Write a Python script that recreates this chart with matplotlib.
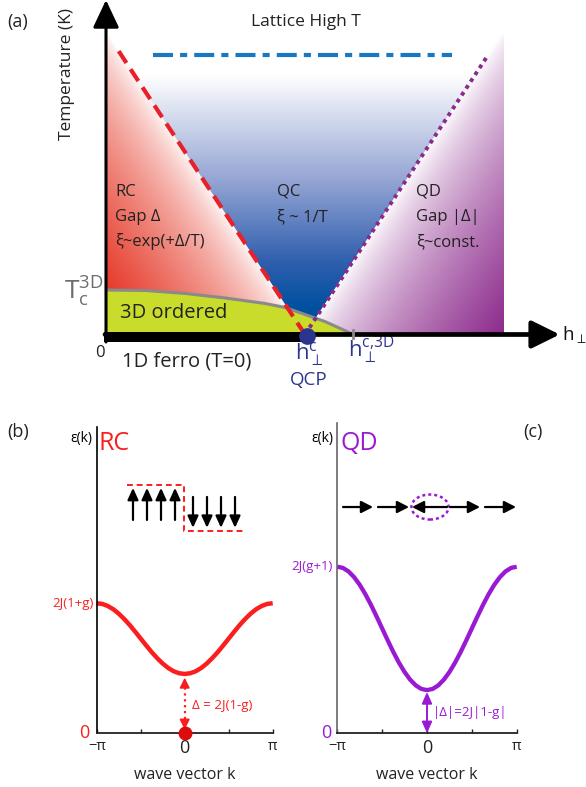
import numpy as np
import matplotlib
matplotlib.use('Agg')
import matplotlib.pyplot as plt
from matplotlib.patches import Polygon, Ellipse
from matplotlib.colors import LinearSegmentedColormap, to_rgb

plt.rcParams['font.family'] = ['Open Sans', 'DejaVu Sans']
plt.rcParams['mathtext.fontset'] = 'custom'
plt.rcParams['mathtext.rm'] = 'Open Sans'
plt.rcParams['mathtext.it'] = 'Open Sans'

# ---------------- (a) phase diagram (h in units of h_c, T arbitrary) -------------
h_qcp = 1.0
h_c3d = 1.24
T_lattice = 2.795
T_top = 3.0
h_edge = 2.0
rc_line_h = [1.0, 0.06]          # RC / QC crossover
rc_line_T = [0.0, 2.845]
qd_line_h = [1.0, 1.92]          # QC / QD crossover
qd_line_T = [0.0, 2.795]
lattice_h = [0.236, 1.74]
Tc_h = [0.0, 0.2, 0.4, 0.6, 0.8, 0.9, 1.0, 1.1, 1.2, 1.24]
Tc_T = [0.445, 0.44, 0.41, 0.365, 0.31, 0.27, 0.20, 0.13, 0.04, 0.0]

# ---------------- (b) / (c) dispersions (epsilon in units of 2J) -----------------
k_vals = np.linspace(-np.pi, np.pi, 33)
eps_rc = [1.38, 1.373, 1.351, 1.317, 1.27, 1.213, 1.149, 1.078, 1.005,
          0.932, 0.861, 0.797, 0.74, 0.693, 0.658, 0.637, 0.63,
          0.637, 0.658, 0.693, 0.74, 0.797, 0.861, 0.932, 1.005,
          1.078, 1.149, 1.213, 1.27, 1.317, 1.351, 1.373, 1.38]
eps_qd = [2.70, 2.681, 2.624, 2.531, 2.407, 2.256, 2.083, 1.895, 1.70,
          1.505, 1.317, 1.144, 0.993, 0.869, 0.776, 0.719, 0.70,
          0.719, 0.776, 0.869, 0.993, 1.144, 1.317, 1.505, 1.70,
          1.895, 2.083, 2.256, 2.407, 2.531, 2.624, 2.681, 2.70]
gap_rc = 0.63
gap_qd = 0.70
top_rc = 1.38
top_qd = 2.70
spin_up_k = [-1.846, -1.346, -0.846, -0.346]
spin_down_k = [0.296, 0.796, 1.296, 1.796]
domain_k = [-2.06, -0.025, -0.025, 2.16]
domain_e = [2.636, 2.636, 2.148, 2.148]
chain_start = [-2.94, -1.716, 0.70, 0.806, 2.03]
chain_end = [-1.89, -0.63, -0.525, 1.856, 3.117]
chain_e = 3.668

RED = '#e8202a'
PURP = '#8c2a8c'
BLUE = '#1a78c2'
NAVY = '#2b3590'
GREEN = '#c9dc2b'
GRAY = '#8a8a8a'
RED_B = '#fa1e1e'
PURP_C = '#9a1ad4'

W, H = 586, 787
fig = plt.figure(figsize=(W / 100, H / 100), dpi=100)


def fx(px):
    return px / W


def fy(py):
    return 1 - py / H


# px per data unit in panel (a)
sx, sy = 199.0, 100.0
ax = fig.add_axes([0, fy(400), 1, 400 / H])
ax.axis('off')


def dist_px(h, T, lh, lT):
    dx = (lh[1] - lh[0]) * sx
    dy = (lT[1] - lT[0]) * sy
    vx = (h - lh[0]) * sx
    vy = (T - lT[0]) * sy
    return np.abs(dx * vy - dy * vx) / np.hypot(dx, dy)


def blend(t, color):
    c = np.array(to_rgb(color))
    return 1 - t[..., None] * (1 - c)


def shade(rgb, poly):
    im = ax.imshow(rgb, extent=(0, h_edge, 0, T_top), origin='lower',
                   aspect='auto', zorder=1, interpolation='bilinear')
    patch = Polygon(poly, closed=True, facecolor='none', edgecolor='none')
    ax.add_patch(patch)
    im.set_clip_path(patch)


hh, TT = np.meshgrid(np.linspace(0, h_edge, 500), np.linspace(0, T_top, 400))


def line_h(lh, lT, T):
    return lh[0] + (lh[1] - lh[0]) * T / lT[1]


h_rc_top = line_h(rc_line_h, rc_line_T, T_top)
h_qd_top = line_h(qd_line_h, qd_line_T, T_top)

# RC (red) region
d = dist_px(hh, TT, rc_line_h, rc_line_T)
dmax = dist_px(np.array(0.0), np.array(Tc_T[0]), rc_line_h, rc_line_T)
t = np.clip(d / dmax, 0, 1) ** 0.65
shade(blend(t, '#e63a2a'),
      [(0, 0), (h_qcp, 0), (h_rc_top, T_top), (0, T_top)])

# QC (blue) region
qc_cmap = LinearSegmentedColormap.from_list(
    'qc', [(0, 'white'), (0.45, '#95a5d4'), (0.8, '#2f5fae'), (1, '#0050a0')])
t = np.clip((2.6 - TT) / (2.6 - 0.25), 0, 1)
shade(qc_cmap(t)[..., :3],
      [(h_qcp, 0), (h_rc_top, T_top), (h_qd_top, T_top)])

# QD (purple) region
d = dist_px(hh, TT, qd_line_h, qd_line_T)
dmax = dist_px(np.array(h_edge), np.array(0.0), qd_line_h, qd_line_T)
t = np.clip(d / dmax, 0, 1) ** 0.7
shade(blend(t, PURP),
      [(h_qcp, 0), (h_qd_top, T_top), (h_edge, T_top), (h_edge, 0)])

# 3D ordered dome
ax.fill_between(Tc_h, 0, Tc_T, color=GREEN, lw=0, zorder=2)
ax.plot(Tc_h, Tc_T, color=GRAY, lw=2.2, zorder=3, solid_capstyle='butt')

# crossover lines
ax.plot(rc_line_h, rc_line_T, color=RED, lw=3, dashes=(3.4, 1.8), zorder=4)
ax.plot(qd_line_h, qd_line_T, color=PURP, lw=2.8, dashes=(1, 1.1), zorder=4)
ax.plot(lattice_h, [T_lattice, T_lattice], color=BLUE, lw=3,
        dashes=(4.8, 1.7, 1.7, 1.7), zorder=4)

# axes
ax.annotate('', xy=(0, 3.345), xytext=(0, -0.075), zorder=6,
            arrowprops=dict(arrowstyle='-|>,head_length=0.85,head_width=0.4',
                            mutation_scale=20, lw=2.2, color='k',
                            shrinkA=0, shrinkB=0))
ax.annotate('', xy=(2.28, 0), xytext=(-0.005, 0), zorder=6,
            arrowprops=dict(arrowstyle='-|>,head_length=0.85,head_width=0.42',
                            mutation_scale=20, lw=3.4, color='k',
                            shrinkA=0, shrinkB=0))
ax.fill_between([-0.008, h_qcp], -0.075, 0.025, color='k', lw=0, zorder=6)
ax.plot([h_c3d, h_c3d], [-0.03, 0.05], color=GRAY, lw=2, zorder=6)
ax.plot(h_qcp + 0.008, -0.01, 'o', ms=11, color=NAVY, zorder=7)

# texts (a)
fig.text(fx(7), fy(22), '(a)', fontsize=13, va='center', color='#222222')
ax.text(-0.196, 2.605, 'Temperature (K)', rotation=90, fontsize=12.5,
        ha='center', va='center', color='#222222')
ax.text(1.005, 3.125, 'Lattice High T', fontsize=12.5, ha='center',
        va='center', color='#222222')
for x0, lines in [(0.045, ['RC', 'Gap Δ', 'ξ~exp(+Δ/T)']),
                  (0.86, ['QC', 'ξ ~ 1/T']),
                  (1.558, ['QD', 'Gap |Δ|', 'ξ~const.'])]:
    for i, s in enumerate(lines):
        ax.text(x0, 1.425 - 0.25 * i, s, fontsize=12, ha='left',
                va='center', color='#222222', zorder=8)
ax.text(-0.21, 0.43, r'T$_{\rm c}^{\rm 3D}$', fontsize=19, ha='left',
        va='center', color='#6d6d6d')
ax.text(0.07, 0.215, '3D ordered', fontsize=14.5, ha='left', va='center',
        color='#222222', zorder=8)
ax.text(-0.03, -0.185, '0', fontsize=12, ha='center', va='center',
        color='#222222')
ax.text(0.08, -0.275, '1D ferro (T=0)', fontsize=14.5, ha='left',
        va='center', color='#222222')
ax.text(0.95, -0.2, r'h$_\perp^{\rm c}$', fontsize=16, ha='left',
        va='center', color=NAVY)
ax.text(1.02, -0.455, 'QCP', fontsize=13.5, ha='center', va='center',
        color=NAVY)
ax.text(1.216, -0.15, r'h$_\perp^{\rm c{,}3D}$', fontsize=16, ha='left',
        va='center', color=NAVY)
ax.text(2.29, 0.0, r'h$_\perp$', fontsize=13.5, ha='left', va='center',
        color='#111111')

ax.set_xlim(-106 / sx, (W - 106) / sx)
ax.set_ylim((334.5 - 400) / sy, 334.5 / sy)

# ---------------- (b) and (c) -------------------------------------------------
ax_b = fig.add_axes([fx(96.7), fy(733.3), 176 / W, (733.3 - 427) / H])
ax_c = fig.add_axes([fx(337.3), fy(733.3), 179.4 / W, (733.3 - 423) / H])

for a, ytop, lcol in [(ax_b, 3.25, 'k'), (ax_c, 5.03, '#666666')]:
    a.set_xlim(-np.pi, np.pi)
    a.set_ylim(0, ytop)
    a.set_facecolor('none')
    for sp in ['top', 'right']:
        a.spines[sp].set_visible(False)
    a.spines['left'].set_color(lcol)
    a.spines['left'].set_linewidth(1.2)
    a.spines['bottom'].set_color('#222222')
    a.spines['bottom'].set_linewidth(1.3)
    a.set_yticks([])
    a.set_xticks([-np.pi, -np.pi / 2, 0, np.pi / 2, np.pi])
    a.set_xticklabels(['−π', '', '0', '', 'π'])
    a.tick_params(axis='x', direction='in', length=3, width=1, pad=4,
                  labelsize=10.5, colors='#222222')
    a.get_xticklabels()[2].set_fontsize(13)
    a.set_xlabel('wave vector k', fontsize=11.5, labelpad=7, color='#222222')

# (b) RC
ax_b.plot(k_vals, eps_rc, color=RED_B, lw=3.2, clip_on=False,
          solid_joinstyle='round', solid_capstyle='butt')
ax_b.plot([0, 0], [0.09, gap_rc - 0.1], color=RED_B, lw=1.6, ls=':')
for y0, y1 in [(gap_rc - 0.15, gap_rc - 0.04), (0.15, 0.04)]:
    ax_b.annotate('', xy=(0, y1), xytext=(0, y0),
                  arrowprops=dict(arrowstyle='-|>,head_length=0.4,head_width=0.2',
                                  mutation_scale=15, lw=1.2, color=RED_B,
                                  shrinkA=0, shrinkB=0))
ax_b.plot(0, 0, 'o', ms=9, color='#dc0c0c', clip_on=False, zorder=5)
ax_b.text(0.27, 0.30, 'Δ = 2J(1-g)', fontsize=9.5, color=RED_B, ha='left',
          va='center')
ax_b.annotate('2J(1+g)', xy=(-np.pi, top_rc), xytext=(-2, 0),
              textcoords='offset points', ha='right', va='center',
              fontsize=9.5, color=RED_B)
ax_b.annotate('0', xy=(-np.pi, 0), xytext=(-5, 0), textcoords='offset points',
              ha='right', va='center', fontsize=13, color=RED_B)
for k in spin_up_k:
    ax_b.annotate('', xy=(k, 2.604), xytext=(k, 2.264),
                  arrowprops=dict(arrowstyle='-|>,head_length=0.35,head_width=0.16',
                                  mutation_scale=20, lw=1.6, color='k',
                                  shrinkA=0, shrinkB=0))
for k in spin_down_k:
    ax_b.annotate('', xy=(k, 2.18), xytext=(k, 2.508),
                  arrowprops=dict(arrowstyle='-|>,head_length=0.35,head_width=0.16',
                                  mutation_scale=20, lw=1.6, color='k',
                                  shrinkA=0, shrinkB=0))
ax_b.plot(domain_k, domain_e, color=RED_B, lw=1.4, dashes=(3, 2))

# (c) QD
ax_c.plot(k_vals, eps_qd, color=PURP_C, lw=3.1, clip_on=False,
          solid_joinstyle='round', solid_capstyle='butt')
ax_c.annotate('', xy=(0, gap_qd - 0.03), xytext=(0, 0),
              arrowprops=dict(arrowstyle='<|-|>,head_length=0.45,head_width=0.2',
                              mutation_scale=15, lw=1.4, color=PURP_C,
                              shrinkA=0, shrinkB=0))
ax_c.text(0.2, 0.34, '|Δ|=2J|1-g|', fontsize=9.5, color=PURP_C, ha='left',
          va='center')
ax_c.annotate('2J(g+1)', xy=(-np.pi, top_qd), xytext=(-3, 0),
              textcoords='offset points', ha='right', va='center',
              fontsize=9.5, color=PURP_C)
ax_c.annotate('0', xy=(-np.pi, 0), xytext=(-4, 0), textcoords='offset points',
              ha='right', va='center', fontsize=13, color=PURP_C)
for k0, k1 in zip(chain_start, chain_end):
    ax_c.annotate('', xy=(k1, chain_e), xytext=(k0, chain_e),
                  annotation_clip=False,
                  arrowprops=dict(arrowstyle='-|>,head_length=0.35,head_width=0.18',
                                  mutation_scale=20, lw=1.6, color='k',
                                  shrinkA=0, shrinkB=0))
ax_c.add_patch(Ellipse((0.105, chain_e), 1.30, 0.405, fill=False,
                       ec=PURP_C, lw=1.8, ls=(0, (1.2, 1.2))))

# panel labels
fig.text(fx(7), fy(432), '(b)', fontsize=13, va='center', color='#222222')
fig.text(fx(523), fy(432), '(c)', fontsize=13, va='center', color='#222222')
fig.text(fx(92), fy(438), 'ε(k)', fontsize=10, ha='right', va='center')
fig.text(fx(99), fy(443), 'RC', fontsize=18, ha='left', va='center',
         color=RED_B)
fig.text(fx(333), fy(438), 'ε(k)', fontsize=10, ha='right', va='center')
fig.text(fx(340), fy(443), 'QD', fontsize=18, ha='left', va='center',
         color=PURP_C)

fig.savefig('out.png', dpi=100)
